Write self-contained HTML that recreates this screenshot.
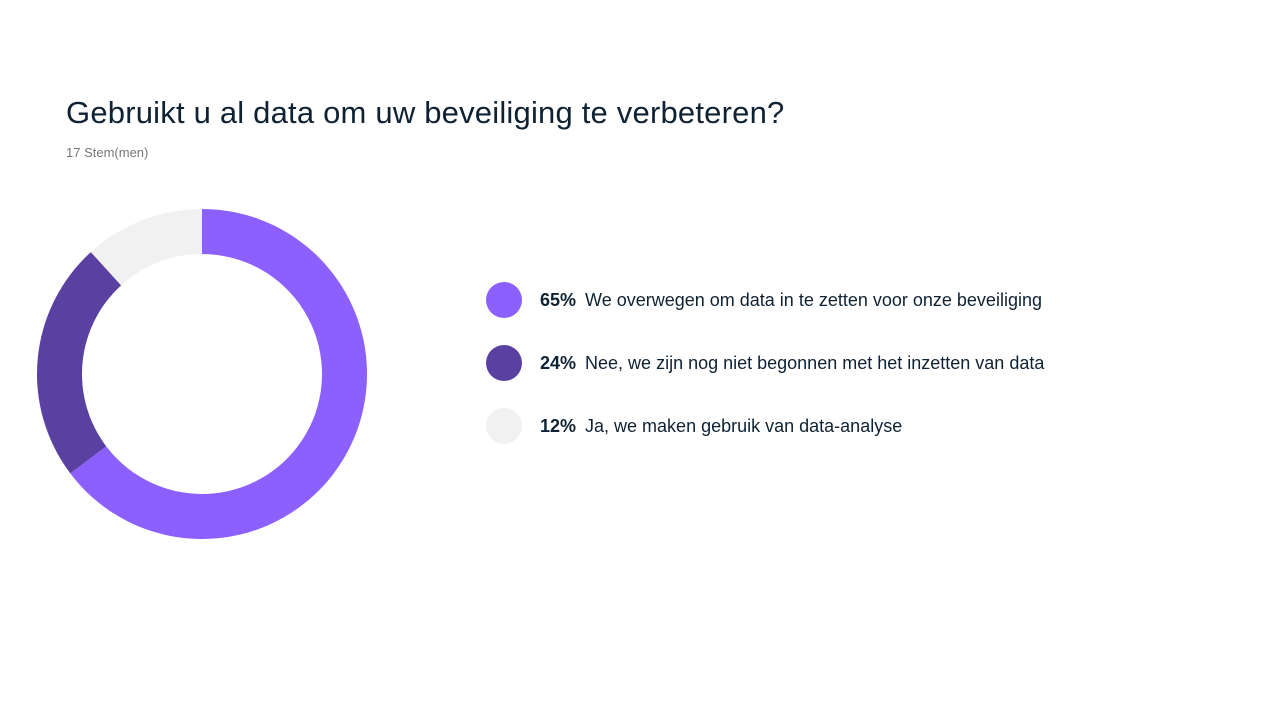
<!DOCTYPE html>
<html><head><meta charset="utf-8"><style>
body{margin:0;width:1280px;height:720px;background:#fff;font-family:"Liberation Sans",sans-serif;color:#0f2233;position:relative;overflow:hidden}
#title{position:absolute;left:66px;top:95px;font-size:31px;margin:0;font-weight:normal;letter-spacing:0.2px}
#sub{position:absolute;left:66px;top:145px;font-size:13px;color:#777}
.leg{position:absolute;left:486px;height:36px;display:flex;align-items:center;font-size:18px}
.dot{width:36px;height:36px;border-radius:50%;margin-right:18px}
.pct{font-weight:bold;margin-right:9px}
</style></head><body>
<h1 id="title">Gebruikt u al data om uw beveiliging te verbeteren?</h1>
<div id="sub">17 Stem(men)</div>
<svg id="donut" width="420" height="420" style="position:absolute;left:0;top:164px"></svg>
<div id="legend"></div>
<script>
const labels=["We overwegen om data in te zetten voor onze beveiliging","Nee, we zijn nog niet begonnen met het inzetten van data","Ja, we maken gebruik van data-analyse"];
const votes=[11,4,2];
const pctLabels=["65%","24%","12%"];
const colors=["#8c5fff","#5a40a0","#f1f1f1"];
const cx=202,cy=210,R=165,r=120;
const total=votes.reduce((a,b)=>a+b,0);
const svg=document.getElementById('donut');
let a0=0;
function pt(rad,a){return [cx+rad*Math.sin(a),cy-rad*Math.cos(a)];}
votes.forEach((v,i)=>{
  const a1=a0+v/total*2*Math.PI;
  const large=(a1-a0)>Math.PI?1:0;
  const [x1,y1]=pt(R,a0),[x2,y2]=pt(R,a1),[x3,y3]=pt(r,a1),[x4,y4]=pt(r,a0);
  const p=document.createElementNS('http://www.w3.org/2000/svg','path');
  p.setAttribute('d',`M${x1},${y1}A${R},${R} 0 ${large} 1 ${x2},${y2}L${x3},${y3}A${r},${r} 0 ${large} 0 ${x4},${y4}Z`);
  p.setAttribute('fill',colors[i]);
  
  
  svg.appendChild(p);
  a0=a1;
});
const leg=document.getElementById('legend');
labels.forEach((l,i)=>{
  const d=document.createElement('div');
  d.className='leg';d.style.top=(282+i*63)+'px';
  
  
  d.innerHTML=`<span class="dot" style="background:${colors[i]}"></span><span class="pct">${pctLabels[i]}</span><span>${l}</span>`;
  leg.appendChild(d);
});
</script>
</body></html>
